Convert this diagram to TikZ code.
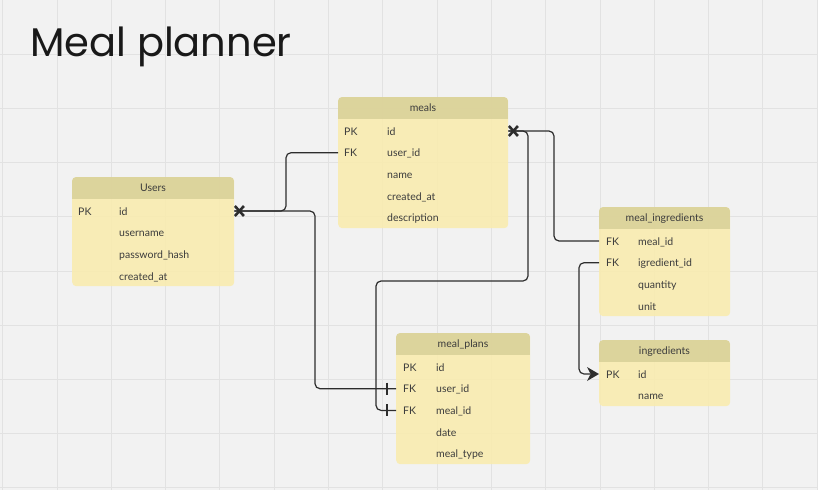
\documentclass[tikz,border=0pt]{standalone}
\usepackage{fontspec}
\setmainfont{Lato}
\newfontfamily\titlefont{Poppins}
\usetikzlibrary{arrows.meta,calc}
\definecolor{bg}{RGB}{242,242,242}
\definecolor{gridc}{RGB}{226,226,226}
\definecolor{bodyc}{RGB}{250,236,172}
\definecolor{headc}{RGB}{214,206,150}
\definecolor{linec}{RGB}{45,45,45}
\definecolor{txt}{RGB}{60,60,60}
\tikzset{
  tbody/.style={fill=bodyc, fill opacity=0.85, rounded corners=4pt, draw=none, inner sep=0},
  trow/.style={draw=none, inner sep=0, minimum height=21pt},
  htext/.style={font=\fontsize{10.5}{12}\selectfont, text=txt, inner sep=0, anchor=mid},
  ftext/.style={font=\fontsize{10.5}{12}\selectfont, text=txt, inner sep=0, anchor=mid west},
  conn/.style={draw=linec, line width=1.2pt, rounded corners=5pt},
  mk/.style={draw=linec, line width=2.6pt},
  tick/.style={draw=linec, line width=1.2pt},
}
\newcommand\ertable[9]{%
  \node[tbody, anchor=north west, minimum width=#4, minimum height=#5] (#1) at (#2,#3) {};
  \begin{scope}
    \clip[rounded corners=4pt] (#2,#3) rectangle ++(#4,#5);
    \fill[headc, fill opacity=0.8] (#2,#3) rectangle ++(#4,22);
  \end{scope}
  \node[htext] (#1-title) at ({#2+#4/2},{#3+12}) {#6};
  \foreach \k/\f/\nm [count=\i] in {#9} {
    \node[trow, anchor=west, minimum width=#4] (#1-\nm) at (#2,{#3+34+21.7*(\i-1)}) {};
    \node[ftext] at ({#2+#7},{#3+35.5+21.7*(\i-1)}) {\k};
    \node[ftext] at ({#2+#8},{#3+35.5+21.7*(\i-1)}) {\f};
  }
}
\newcommand\xmarker[1]{%
  \draw[mk] ($(#1)+(0.5,-5)$) -- ++(9,10) ($(#1)+(0.5,5)$) -- ++(9,-10);
}
\begin{document}
\begin{tikzpicture}[x=1pt,y=-1pt]
\fill[bg] (0,0) rectangle (818,490);
\useasboundingbox (0,0) rectangle (818,490);
\foreach \i in {0,...,15} \draw[gridc, line width=0.9pt] ({2.7+54.3*\i},0) -- ++(0,490);
\foreach \j in {1,...,9} \draw[gridc, line width=0.9pt] (0,{54.2*\j}) -- ++(818,0);

\node[anchor=base west, inner sep=0, text=black!90, font=\titlefont\fontsize{40}{44}\selectfont] (title) at (30,56) {Meal planner};

\ertable{users}{72}{177}{162}{109}{Users}{6}{47}{PK/id/id, /username/username, /password\_hash/pw, /created\_at/created}
\ertable{meals}{338}{97}{170}{131}{meals}{6}{49}{PK/id/id, FK/user\_id/userid, /name/name, /created\_at/created, /description/desc}
\ertable{mi}{599}{207}{131}{109}{meal\_ingredients}{7}{39}{FK/meal\_id/mealid, FK/igredient\_id/ingid, /quantity/qty, /unit/unit}
\ertable{ing}{599}{340}{131}{66}{ingredients}{7}{39}{PK/id/id, /name/name}
\ertable{mp}{396}{333}{134}{131}{meal\_plans}{7}{40}{PK/id/id, FK/user\_id/userid, FK/meal\_id/mealid, /date/date, /meal\_type/type}

\coordinate (c1) at (286,211);
\coordinate (c2) at (315,211);
\coordinate (c3) at (376,281);
\coordinate (c4) at (528,131);
\coordinate (c5) at (554,131);
\coordinate (c6) at (579,374);

\draw[conn] (meals-userid.west) -| (c1) -- (users-id.east);
\draw[conn] (mp-userid.west) -| (c2) -- (users-id.east);
\draw[conn] (mp-mealid.west) -| (c3) -| (c4) -- (meals-id.east);
\draw[conn] (mi-mealid.west) -| (c5) -- (meals-id.east);
\draw[conn] (mi-ingid.west) -| (c6) -- ($(ing-id.west)+(-9,0)$);
\fill[linec] (ing-id.west) -- ++(-12,-7) -- ++(3.5,7) -- ++(-3.5,7) -- cycle;

\xmarker{users-id.east}
\xmarker{meals-id.east}
\draw[tick] ($(mp-userid.west)+(-9,-6)$) -- ++(0,12);
\draw[tick] ($(mp-mealid.west)+(-9,-6)$) -- ++(0,12);
\end{tikzpicture}
\end{document}
